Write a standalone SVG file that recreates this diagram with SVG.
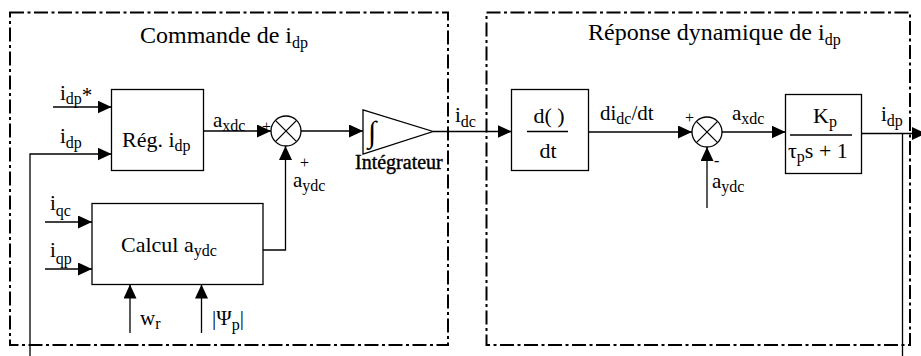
<svg xmlns="http://www.w3.org/2000/svg" width="921" height="356" viewBox="0 0 921 356">
<style>
.frame{fill:none;stroke:#000;stroke-width:2;stroke-dasharray:14 3.5 3 3.5}
.blk{fill:#fff;stroke:#000;stroke-width:1.3}
.ln{fill:none;stroke:#000;stroke-width:1.3}
.arr{fill:none;stroke:#000;stroke-width:1.3;marker-end:url(#ah)}
text{font-family:"Liberation Serif","Times New Roman",serif;fill:#000}
.t{font-size:24px}
.lb{font-size:21px}
.bx{font-size:22px}
.s{font-size:16px}
.sg{font-size:16px}
</style>
<defs>
<marker id="ah" viewBox="0 0 14 13" refX="14" refY="6.5" markerWidth="14" markerHeight="13" markerUnits="userSpaceOnUse" orient="auto">
<path d="M0,0 L14,6.5 L0,13 Z" fill="#000"/>
</marker>
</defs>
<rect width="921" height="356" fill="#fff"/>

<g id="frame-commande">
<rect class="frame" x="10" y="12.5" width="438" height="332.5"/>
<text class="t" x="140" y="43">Commande de i<tspan class="s" dy="5">dp</tspan></text>
</g>
<g id="frame-reponse">
<rect class="frame" x="486.5" y="12.5" width="423.5" height="332.5"/>
<text class="t" x="588" y="40">Réponse dynamique de i<tspan class="s" dy="5">dp</tspan></text>
</g>

<g id="connectors">
<line class="arr" x1="53" y1="107" x2="111.5" y2="107"/>
<path class="arr" d="M30,356 V154 H111.5"/>
<line class="arr" x1="203.5" y1="131" x2="271" y2="131"/>
<line class="arr" x1="301" y1="131" x2="363" y2="131"/>
<path class="arr" d="M263,250 H285.5 V146"/>
<line class="arr" x1="45" y1="222" x2="92" y2="222"/>
<line class="arr" x1="45" y1="269" x2="92" y2="269"/>
<line class="arr" x1="130" y1="333" x2="130" y2="284.5"/>
<line class="arr" x1="201.5" y1="333" x2="201.5" y2="284.5"/>
<line class="arr" x1="433" y1="131.5" x2="511.5" y2="131.5"/>
<line class="arr" x1="588.5" y1="132" x2="692" y2="132"/>
<line class="arr" x1="707" y1="208" x2="707" y2="147"/>
<line class="arr" x1="722" y1="132" x2="785.5" y2="132"/>
<line class="arr" x1="861.5" y1="133.5" x2="926" y2="133.5"/>
<line class="ln" x1="902.5" y1="133.5" x2="902.5" y2="356"/>
</g>

<g id="labels">
<text class="lb" x="60" y="100">i<tspan class="s" dy="4">dp</tspan><tspan dy="-2">*</tspan></text>
<text class="lb" x="60" y="143">i<tspan class="s" dy="5">dp</tspan></text>
<text class="lb" x="213" y="127">a<tspan class="s" dy="4">xdc</tspan></text>
<text class="sg" x="262" y="132">+</text>
<text class="sg" x="300" y="168">+</text>
<text class="lb" x="293" y="187">a<tspan class="s" dy="4">ydc</tspan></text>
<text class="lb" x="50" y="210">i<tspan class="s" dy="6">qc</tspan></text>
<text class="lb" x="50" y="257">i<tspan class="s" dy="7">qp</tspan></text>
<text class="lb" x="140" y="325">w<tspan class="s" dy="4">r</tspan></text>
<text class="lb" x="212" y="325">|Ψ<tspan class="s" dy="5">p</tspan><tspan dy="-5">|</tspan></text>
<text class="lb" x="455" y="122">i<tspan class="s" dy="5">dc</tspan></text>
<text class="lb" x="600" y="120">di<tspan class="s" dy="4">dc</tspan><tspan dy="-4">/dt</tspan></text>
<text class="sg" x="685" y="123">+</text>
<text class="sg" x="714" y="166">-</text>
<text class="lb" x="712" y="188">a<tspan class="s" dy="4">ydc</tspan></text>
<text class="lb" x="732" y="120">a<tspan class="s" dy="4">xdc</tspan></text>
<text class="lb" x="881" y="121">i<tspan class="s" dy="5">dp</tspan></text>
</g>

<g id="reg">
<rect class="blk" x="111.5" y="89.5" width="92" height="81"/>
<text class="bx" x="122" y="147">Rég. i<tspan class="s" dy="4">dp</tspan></text>
</g>

<g id="calcul">
<rect class="blk" x="92" y="203.5" width="171" height="81"/>
<text class="bx" x="121" y="252">Calcul a<tspan class="s" dy="4">ydc</tspan></text>
</g>

<g id="sum1">
<circle class="blk" cx="286" cy="131" r="15"/>
<path class="ln" d="M275.4,120.4 L296.6,141.6 M296.6,120.4 L275.4,141.6"/>
</g>

<g id="integrateur">
<polygon class="blk" points="363,110 363,154 433,131.5"/>
<text x="368" y="142" style="font-size:30px">∫</text>
<text x="355" y="169" style="font-size:20px;stroke:#000;stroke-width:0.4">Intégrateur</text>
</g>

<g id="derivee">
<rect class="blk" x="511.5" y="89.5" width="77" height="81"/>
<text class="bx" x="549" y="123" text-anchor="middle">d(  )</text>
<line class="ln" x1="527" y1="131.5" x2="568" y2="131.5"/>
<text class="bx" x="548" y="158" text-anchor="middle">dt</text>
</g>

<g id="sum2">
<circle class="blk" cx="707" cy="132" r="15"/>
<path class="ln" d="M696.4,121.4 L717.6,142.6 M717.6,121.4 L696.4,142.6"/>
</g>

<g id="transfert">
<rect class="blk" x="785.5" y="94.5" width="76" height="79"/>
<text class="bx" x="813" y="123">K<tspan class="s" dy="4">p</tspan></text>
<line class="ln" x1="790" y1="135" x2="852" y2="135"/>
<text class="bx" x="788" y="158">τ<tspan class="s" dy="4">p</tspan><tspan dy="-4">s + 1</tspan></text>
</g>
</svg>
